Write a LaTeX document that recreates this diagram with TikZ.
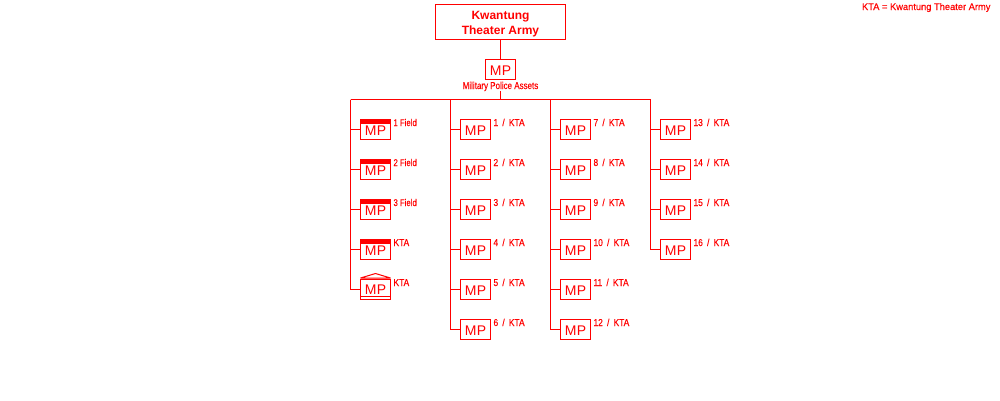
\documentclass[tikz,border=0pt]{standalone}
\usepackage{fontspec}
\setmainfont{Liberation Sans}
\newfontfamily\labfont[FakeStretch=0.84,WordSpace=1.8,FakeBold=0.25]{Liberation Sans}
\newfontfamily\hqfont[FakeStretch=0.80,FakeBold=0.25]{Liberation Sans}
\newfontfamily\legfont[FakeStretch=0.97,FakeBold=0.2]{Liberation Sans}
\definecolor{kred}{RGB}{255,0,0}
\tikzset{
  conn/.style={draw=kred,line width=1pt},
  mpbox/.style={draw=kred,line width=1pt,fill=white,minimum width=30pt,minimum height=20pt,inner sep=0pt,outer sep=0pt,text=kred,font=\fontsize{14}{15}\selectfont},
  unitlab/.style={anchor=base west,inner sep=0pt,outer sep=0pt,text=kred,font=\labfont\fontsize{10}{10}\selectfont},
  fieldlab/.style={anchor=base west,inner sep=0pt,outer sep=0pt,text=kred,font=\hqfont\fontsize{9.7}{10}\selectfont},
  titlebox/.style={draw=kred,line width=1pt,minimum width=130pt,minimum height=35pt,inner sep=0pt,outer sep=0pt,text=kred,align=center,font=\bfseries\fontsize{12}{15}\selectfont},
}
\newcommand{\mptext}{\raisebox{-1.2pt}[10pt][0pt]{M\kern.4pt P}}
\begin{document}
\begin{tikzpicture}[x=1pt,y=-1pt]
\useasboundingbox[fill=white] (0,0) rectangle (1000,400);
\node[titlebox] (top) at (500.5,22) {\raisebox{0pt}[9pt][0pt]{Kwantung}\\\raisebox{0pt}[9pt][0pt]{Theater Army}};
\node[mpbox] (hq) at (500.5,69.5) {\mptext};
\node[inner sep=0pt,outer sep=0pt,text=kred,font=\hqfont\fontsize{10}{10}\selectfont,anchor=base] (hqlab) at (500.5,89) {Military Police Assets};
\node[anchor=base west,inner sep=0pt,outer sep=0pt,text=kred,font=\legfont\fontsize{9.6}{10}\selectfont] (legend) at (862,10) {KTA = Kwantung Theater Army};
\coordinate (bus) at (500.5,99.5);
\coordinate (c1) at (350.5,99.5);
\coordinate (c2) at (450.5,99.5);
\coordinate (c3) at (550.5,99.5);
\coordinate (c4) at (650.5,99.5);
\draw[conn] (top) -- (hq);
\draw[conn] (hqlab.south -| bus) -- (bus);
\draw[conn] (c1) -- (c4);
% column 1
\foreach \n/\y/\t/\s in {1/129.5/1 Field/fieldlab,2/169.5/2 Field/fieldlab,3/209.5/3 Field/fieldlab,4/249.5/KTA/unitlab}{
  \node[mpbox] (a\n) at (375.5,\y) {\mptext};
  \fill[kred] ([xshift=-.5pt]a\n.north west) rectangle ([xshift=.5pt,yshift=-4pt]a\n.north east);
  \node[\s] (al\n) at (393.5,\y-3.5) {\t};
  \draw[conn] (c1) |- (a\n);
}
\node[mpbox] (a5) at (375.5,289.5) {\raisebox{0pt}[10pt][0pt]{M\kern.4pt P}};
\node[unitlab] (al5) at (393.5,286) {KTA};
\draw[conn] (c1) |- (a5);
% column 2
\foreach \n/\y in {1/129.5,2/169.5,3/209.5,4/249.5,5/289.5,6/329.5}{
  \node[mpbox] (b\n) at (475.5,\y) {\mptext};
  \node[unitlab] (bl\n) at (493.5,\y-3.5) {\n{} / KTA};
  \draw[conn] (c2) |- (b\n);
}
% column 3
\foreach \n/\y in {7/129.5,8/169.5,9/209.5,10/249.5,11/289.5,12/329.5}{
  \node[mpbox] (d\n) at (575.5,\y) {\mptext};
  \node[unitlab] (dl\n) at (593.5,\y-3.5) {\n{} / KTA};
  \draw[conn] (c3) |- (d\n);
}
% column 4
\foreach \n/\y in {13/129.5,14/169.5,15/209.5,16/249.5}{
  \node[mpbox] (e\n) at (675.5,\y) {\mptext};
  \node[unitlab] (el\n) at (693.5,\y-3.5) {\n{} / KTA};
  \draw[conn] (c4) |- (e\n);
}
% headquarters symbol details
\draw[conn,line join=bevel] (360.5,278) -- (375.5,273.5) -- (390.5,278) -- cycle;
\draw[conn] ([yshift=-16.5pt]a5.north west) -- ([yshift=-16.5pt]a5.north east);
\end{tikzpicture}
\end{document}
